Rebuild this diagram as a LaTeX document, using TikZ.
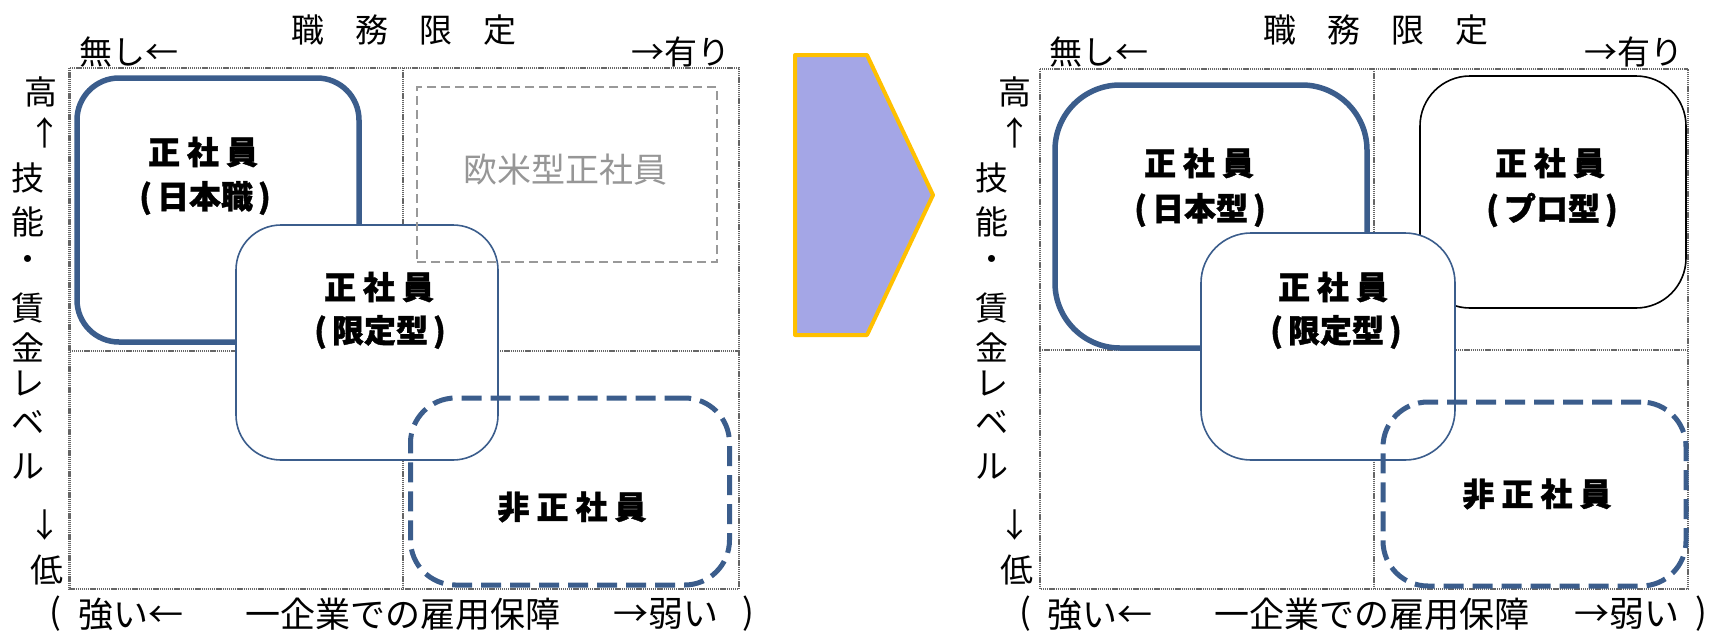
\documentclass[tikz,border=0pt]{standalone}
\usepackage{fontspec}
\setmainfont{Noto Sans CJK JP}
\definecolor{myblue}{RGB}{59,93,140}
\definecolor{arrowfill}{RGB}{164,166,230}
\definecolor{arrowline}{RGB}{255,192,0}
\definecolor{westgray}{RGB}{150,150,150}
\newcommand\gp{\kern7pt}
\begin{document}
\begin{tikzpicture}[x=1pt,y=-1pt,
  frm/.style={draw=black!60, line width=2.2pt, dash pattern=on 1.3pt off 0.8pt},
  thickbox/.style={draw=myblue, line width=5.5pt, fill=white, rectangle, inner sep=0pt},
  thinbox/.style={draw=myblue, line width=1.6pt, fill=white, rectangle, inner sep=0pt},
  probox/.style={draw=black, line width=1.6pt, fill=white, rectangle, inner sep=0pt},
  nonbox/.style={draw=myblue, line width=5pt, dash pattern=on 20pt off 9pt, rectangle, inner sep=0pt},
  westbox/.style={draw=black!40, line width=1.8pt, dash pattern=on 9pt off 5pt, rectangle, inner sep=0pt},
  lbl/.style={font=\fontsize{32}{38}\selectfont\bfseries\addfontfeatures{FakeBold=1.2}, inner sep=0pt},
  ax/.style={font=\fontsize{33}{36}\selectfont, inner sep=0pt},
  bot/.style={font=\fontsize{35}{40}\selectfont, inner sep=0pt},
  westtxt/.style={font=\fontsize{34}{38}\selectfont, text=westgray, inner sep=0pt},
]
\useasboundingbox (0,0) rectangle (1709,630);

% ================= LEFT PANEL =================
\draw[frm] (69.5,68) rectangle (739,589);
\coordinate (lmt) at (403,68);
\coordinate (lmb) at (403,589);
\coordinate (lml) at (69.5,351);
\coordinate (lmr) at (739,351);
\draw[frm] (lmt) -- (lmb);
\draw[frm] (lml) -- (lmr);

\node[thickbox, rounded corners=42pt, minimum width=282pt, minimum height=264pt] (jpL) at (218,210) {};
\node[thinbox, rounded corners=45pt, minimum width=262pt, minimum height=235pt] (ltdL) at (367,342.5) {};
\node[westbox, minimum width=300pt, minimum height=175pt] (westL) at (567,174.5) {};
\node[nonbox, rounded corners=45pt, minimum width=319pt, minimum height=187pt] (nonL) at (570,491.5) {};

\node[lbl] (jpL1) at (203,152) {正\gp{}社\gp{}員};
\node[lbl] (jpL2) at (205,198) {(\kern5pt{}日本職\kern5pt{})};
\node[lbl] (ltdL1) at (379,287) {正\gp{}社\gp{}員};
\node[lbl] (ltdL2) at (380,332) {(\kern5pt{}限定型\kern5pt{})};
\node[westtxt] (westL1) at (565,170) {欧米型正社員};
\node[lbl] (nonL1) at (572,507) {非\gp{}正\gp{}社\gp{}員};

\node[ax] (titL) at (404,30) {職\kern31pt{}務\kern31pt{}限\kern31pt{}定};
\node[ax, anchor=west] (noL) at (79,52) {無し←};
\node[ax, anchor=east] (yesL) at (731,52) {→有り};

\foreach \c/\xx/\yy [count=\i] in {高/41/92, ↑/45/133, 技/28/178, 能/28/222, ・/28/263, 賃/28/308, 金/28/347, レ/28/384, ベ/28/422, ル/28/467, ↓/45/525, 低/47/570}
  \node[ax] (vL\i) at (\xx,\yy) {\c};

\node[bot] (bL1) at (55,614) {(};
\node[bot, anchor=west] (bL2) at (78,614) {強い←};
\node[bot, anchor=west] (bL3) at (245,614) {一企業での雇用保障};
\node[bot, anchor=west] (bL4) at (613,614) {→弱い};
\node[bot] (bL5) at (748,614) {)};

% ================= ARROW =================
\draw[fill=arrowfill, draw=arrowline, line width=4pt, line join=round]
  (795,55) -- (867,55) -- (933,195) -- (867,335) -- (795,335) -- cycle;

% ================= RIGHT PANEL =================
\draw[frm] (1040,69) rectangle (1688,589);
\coordinate (rmt) at (1374,69);
\coordinate (rmb) at (1374,589);
\coordinate (rml) at (1040,350);
\coordinate (rmr) at (1688,350);
\draw[frm] (rmt) -- (rmb);
\draw[frm] (rml) -- (rmr);

\node[thickbox, rounded corners=65pt, minimum width=312pt, minimum height=263pt] (jpR) at (1211,216.5) {};
\node[probox, rounded corners=50pt, minimum width=266pt, minimum height=232pt] (proR) at (1553,192) {};
\node[thinbox, rounded corners=50pt, minimum width=254pt, minimum height=227pt] (ltdR) at (1328,346.5) {};
\node[nonbox, rounded corners=45pt, minimum width=303pt, minimum height=184pt] (nonR) at (1534.5,494) {};

\node[lbl] (jpR1) at (1199,163) {正\gp{}社\gp{}員};
\node[lbl] (jpR2) at (1200,210) {(\kern5pt{}日本型\kern5pt{})};
\node[lbl] (proR1) at (1550,163) {正\gp{}社\gp{}員};
\node[lbl] (proR2) at (1552,210) {(\kern5pt{}プロ型\kern5pt{})};
\node[lbl] (ltdR1) at (1333,287) {正\gp{}社\gp{}員};
\node[lbl] (ltdR2) at (1336,332) {(\kern5pt{}限定型\kern5pt{})};
\node[lbl] (nonR1) at (1537,494) {非\gp{}正\gp{}社\gp{}員};

\node[ax] (titR) at (1376,30) {職\kern31pt{}務\kern31pt{}限\kern31pt{}定};
\node[ax, anchor=west] (noR) at (1049,52) {無し←};
\node[ax, anchor=east] (yesR) at (1684,52) {→有り};

\foreach \c/\xx/\yy [count=\i] in {高/1015/92, ↑/1015/133, 技/992/178, 能/992/222, ・/992/263, 賃/992/308, 金/992/347, レ/992/384, ベ/992/422, ル/992/467, ↓/1015/525, 低/1017/570}
  \node[ax] (vR\i) at (\xx,\yy) {\c};

\node[bot] (bR1) at (1025,614) {(};
\node[bot, anchor=west] (bR2) at (1047,614) {強い←};
\node[bot, anchor=west] (bR3) at (1214,614) {一企業での雇用保障};
\node[bot, anchor=west] (bR4) at (1574,614) {→弱い};
\node[bot] (bR5) at (1701,614) {)};
\end{tikzpicture}
\end{document}
